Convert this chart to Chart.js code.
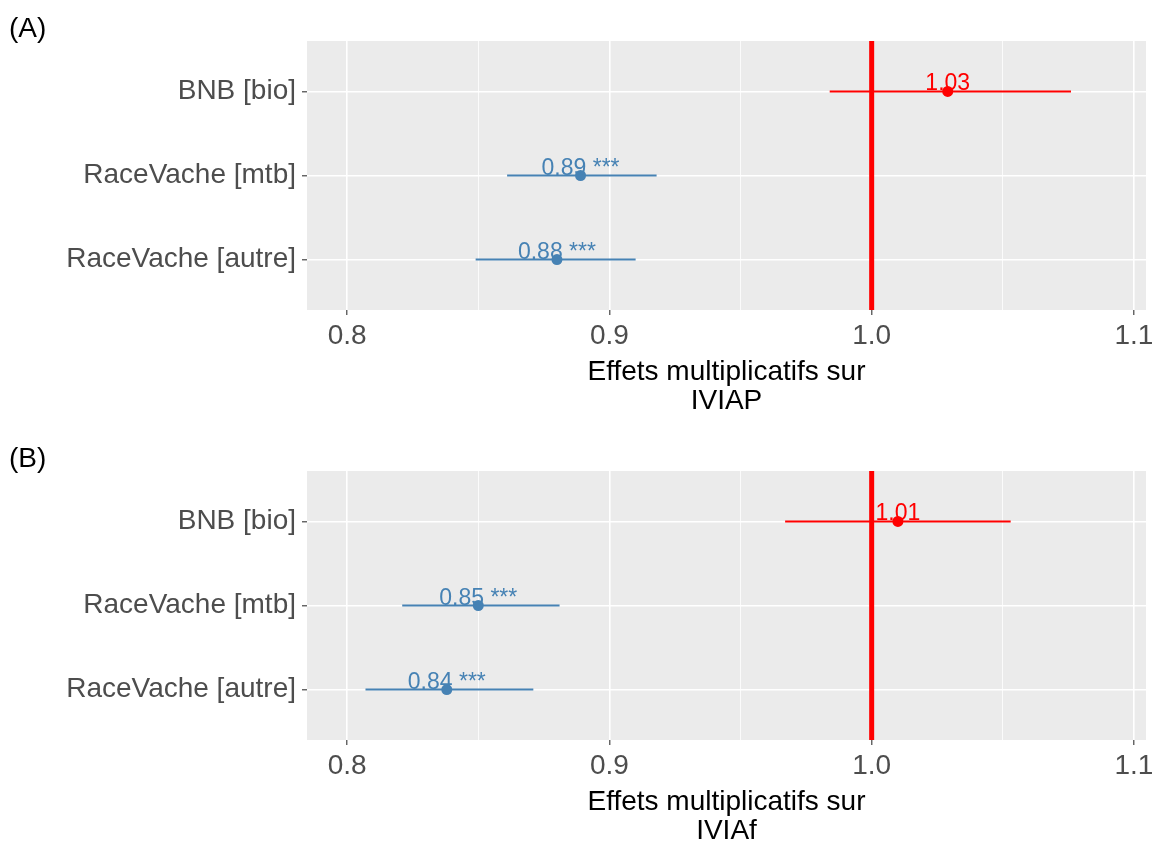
<!DOCTYPE html>
<html>
<head>
<meta charset="utf-8">
<script src="https://cdn.jsdelivr.net/npm/chart.js@4"></script>
<style>
  html, body { margin: 0; padding: 0; background: #ffffff; overflow: hidden; }
  .panel { position: absolute; left: 0; width: 1162px; height: 430px; }
  #pA { top: 0; }
  #pB { top: 430px; }
</style>
</head>
<body>
<div class="panel" id="pA"><canvas id="cA" width="1162" height="430"></canvas></div>
<div class="panel" id="pB"><canvas id="cB" width="1162" height="430"></canvas></div>
<script>
// ---------- data ----------
const categories = ['BNB [bio]', 'RaceVache [mtb]', 'RaceVache [autre]'];

const estA = [1.029, 0.889, 0.880];
const lowA = [0.984, 0.861, 0.849];
const highA = [1.076, 0.918, 0.910];
const valueLabelsA = ['1.03', '0.89 ***', '0.88 ***'];

const estB = [1.010, 0.850, 0.838];
const lowB = [0.967, 0.821, 0.807];
const highB = [1.053, 0.881, 0.871];
const valueLabelsB = ['1.01', '0.85 ***', '0.84 ***'];

const xMajorTicks = [0.8, 0.9, 1.0, 1.1];
const xMajorTickLabels = ['0.8', '0.9', '1.0', '1.1'];
const xMinorTicks = [0.85, 0.95, 1.05];
const referenceValue = 1.0;

const panelTitles = ['(A)', '(B)'];
const axisTitleA = ['Effets multiplicatifs sur', 'IVIAP'];
const axisTitleB = ['Effets multiplicatifs sur', 'IVIAf'];

// ---------- style ----------
const RED = '#FF0000';
const BLUE = '#4682B4';
const FONT = '"Liberation Sans", Arial, sans-serif';
const colorFor = v => (v >= referenceValue ? RED : BLUE);
const isMajor = v => xMajorTicks.some(m => Math.abs(m - v) < 1e-9);

function makeChart(canvasId, est, low, high, valueLabels, panelTitle, axisTitle) {
  const datasets = [];
  // reference line
  datasets.push({
    type: 'line',
    data: [{x: referenceValue, y: 0.4}, {x: referenceValue, y: 3.6}],
    borderColor: RED, borderWidth: 5, pointRadius: 0, order: 3
  });
  // confidence intervals
  categories.forEach((c, i) => {
    datasets.push({
      type: 'line',
      data: [{x: low[i], y: i + 1}, {x: high[i], y: i + 1}],
      borderColor: colorFor(est[i]), borderWidth: 2, pointRadius: 0, order: 2
    });
  });
  // estimates
  datasets.push({
    type: 'scatter',
    data: est.map((v, i) => ({x: v, y: i + 1})),
    backgroundColor: est.map(colorFor),
    borderColor: est.map(colorFor),
    pointRadius: 5.5, borderWidth: 0, order: 1
  });

  const decorPlugin = {
    id: 'decor',
    beforeDraw(chart) {
      const {ctx, chartArea: a} = chart;
      ctx.save();
      ctx.fillStyle = '#ffffff';
      ctx.fillRect(0, 0, chart.width, chart.height);
      ctx.fillStyle = '#EBEBEB';
      ctx.fillRect(a.left, a.top, a.right - a.left, a.bottom - a.top);
      ctx.fillStyle = '#000000';
      ctx.font = '28px ' + FONT;
      ctx.textAlign = 'left';
      ctx.textBaseline = 'middle';
      ctx.fillText(panelTitle, 9, 29);
      ctx.restore();
    },
    afterDatasetsDraw(chart) {
      const {ctx} = chart;
      const xs = chart.scales.x, ys = chart.scales.y;
      ctx.save();
      ctx.font = '23px ' + FONT;
      ctx.textAlign = 'center';
      ctx.textBaseline = 'alphabetic';
      valueLabels.forEach((t, i) => {
        ctx.fillStyle = colorFor(est[i]);
        ctx.fillText(t, xs.getPixelForValue(est[i]), ys.getPixelForValue(i + 1) - 1);
      });
      ctx.restore();
    }
  };

  return new Chart(document.getElementById(canvasId), {
    data: {datasets},
    plugins: [decorPlugin],
    options: {
      responsive: false,
      animation: false,
      events: [],
      layout: {padding: {top: 41, right: 16, left: 0, bottom: 0}},
      plugins: {legend: {display: false}, tooltip: {enabled: false}},
      scales: {
        x: {
          type: 'linear',
          min: 0.7847, max: 1.1046,
          afterBuildTicks: s => { s.ticks = xMajorTicks.concat(xMinorTicks).sort((a, b) => a - b).map(v => ({value: v})); },
          afterFit: s => { s.height = 120; },
          border: {display: false},
          grid: {
            color: '#FFFFFF',
            lineWidth: c => (c.tick && isMajor(c.tick.value) ? 1.6 : 0.8),
            tickColor: c => (c.tick && isMajor(c.tick.value) ? '#333333' : 'rgba(0,0,0,0)'),
            tickWidth: 1.1,
            tickLength: 5
          },
          ticks: {
            autoSkip: false, maxRotation: 0, padding: 4,
            color: '#4D4D4D',
            font: {family: FONT, size: 28},
            callback: v => { const k = xMajorTicks.findIndex(m => Math.abs(m - v) < 1e-9); return k >= 0 ? xMajorTickLabels[k] : ''; }
          },
          title: {
            display: true, text: axisTitle, color: '#000000',
            font: {family: FONT, size: 28, lineHeight: 1.04},
            padding: {top: 0, bottom: 14}
          }
        },
        y: {
          type: 'linear',
          reverse: true,
          min: 0.4, max: 3.6,
          afterBuildTicks: s => { s.ticks = categories.map((c, i) => ({value: i + 1})); },
          afterFit: s => { s.width = 307; },
          border: {display: false},
          grid: {color: '#FFFFFF', lineWidth: 1.6, tickColor: '#333333', tickWidth: 1.1, tickLength: 5},
          ticks: {
            autoSkip: false, padding: 6,
            color: '#4D4D4D',
            font: {family: FONT, size: 28},
            callback: v => categories[Math.round(v) - 1] || ''
          }
        }
      }
    }
  });
}

makeChart('cA', estA, lowA, highA, valueLabelsA, panelTitles[0], axisTitleA);
makeChart('cB', estB, lowB, highB, valueLabelsB, panelTitles[1], axisTitleB);
</script>
</body>
</html>
